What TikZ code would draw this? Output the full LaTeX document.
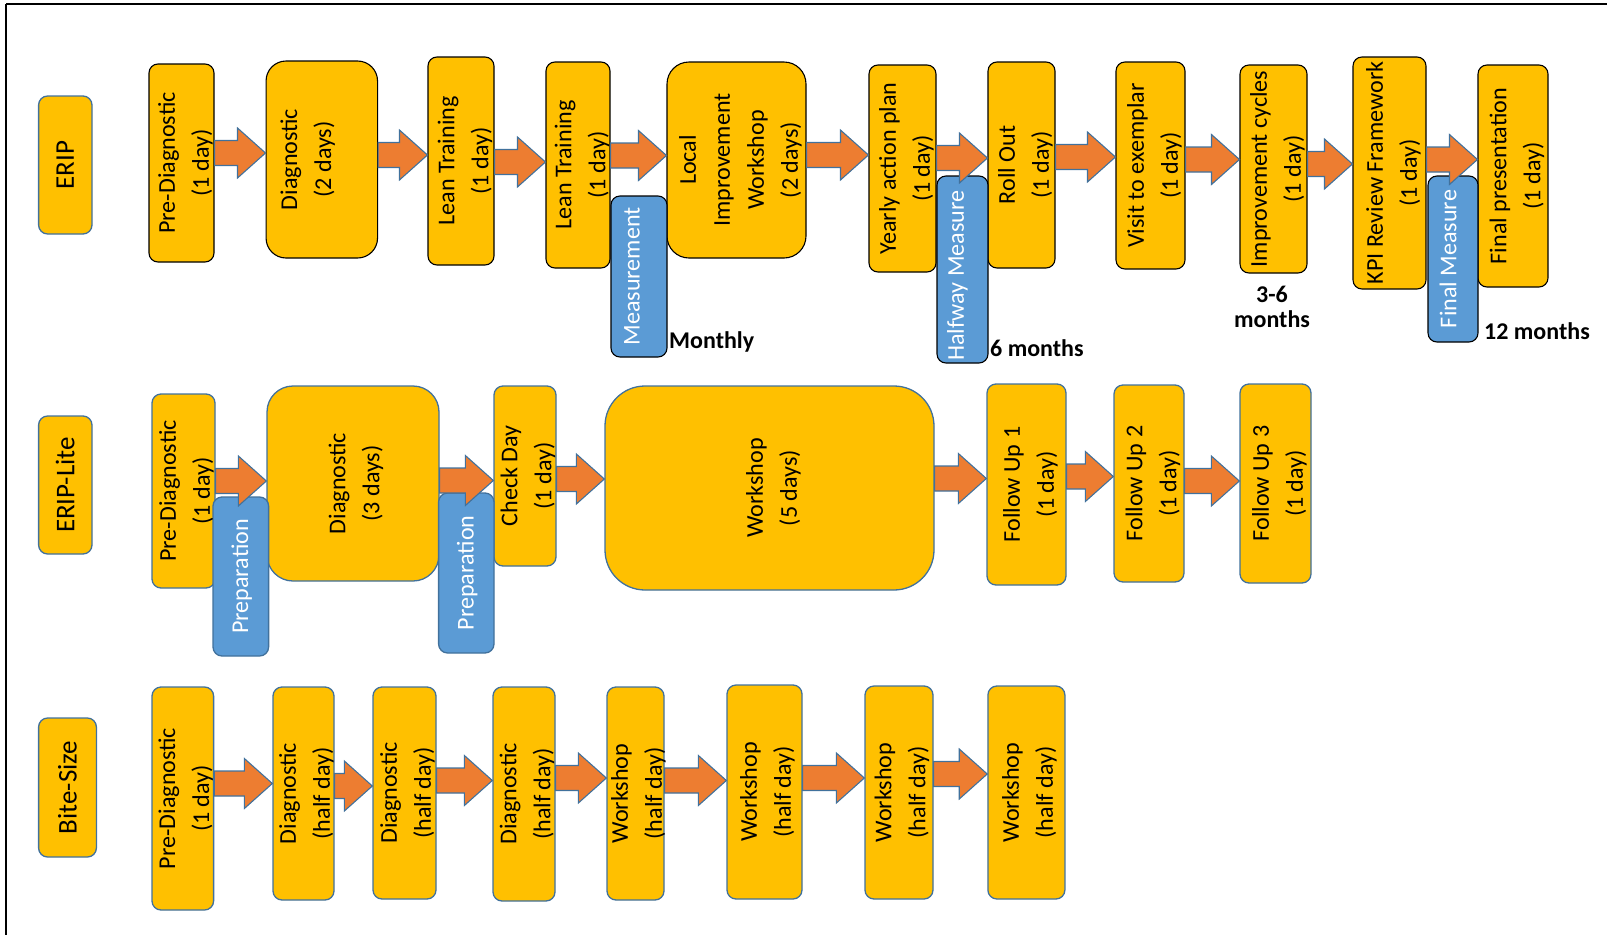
\documentclass[tikz,border=0pt]{standalone}
\usepackage{fontspec}
\setmainfont{Carlito}
\usetikzlibrary{calc}

\definecolor{boxorange}{HTML}{FFC000}
\definecolor{boxblue}{HTML}{5B9BD5}
\definecolor{edgeblue}{HTML}{41719C}
\definecolor{arroworange}{HTML}{ED7D31}

\tikzset{
  stage/.style={draw=black, fill=boxorange, rounded corners=9pt, line width=1.1pt, inner sep=0pt},
  stagelite/.style={stage, draw=edgeblue, line width=1.3pt},
  measure/.style={draw=black, fill=boxblue, rounded corners=9pt, line width=1.1pt, inner sep=0pt},
  prepbox/.style={measure, draw=edgeblue, line width=1.3pt},
  tag/.style={draw=edgeblue, fill=boxorange, rounded corners=9pt, line width=1.3pt, inner sep=0pt,
    rotate=90, font=\fontsize{27}{30}\selectfont},
  txt/.style={xshift=#1pt, rotate=90, align=center, inner sep=0pt, font=\fontsize{24.1}{34}\selectfont},
  txt/.default=4,
  wtxt/.style={txt=#1, text=white},
  wtxt/.default=-5,
  note/.style={inner sep=0pt, font=\fontsize{24}{25}\selectfont\bfseries},
  flow/.style={draw=edgeblue, fill=arroworange, line width=1.1pt, line join=miter},
  frame/.style={line width=1.6pt}
}

\newcommand{\flowarrow}[3]{%
  \coordinate (fs) at (#1.east |- 0,#3);
  \coordinate (ft) at (#2.west |- 0,#3);
  \draw[flow] ($(fs)+(0,-12.5)$) -- ($(ft)+(-28,-12.5)$) -- ($(ft)+(-28,-25)$) -- (ft)
    -- ($(ft)+(-28,25)$) -- ($(ft)+(-28,12.5)$) -- ($(fs)+(0,12.5)$) -- cycle;}

\begin{document}
\begin{tikzpicture}[x=1pt, y=-1pt]
\useasboundingbox (0,0) rectangle (1607,935);
\draw[frame] (6,4) -- (1607,4);
\draw[frame] (6,4) -- (6,935);

% ERIP
\node[tag, minimum width=138, minimum height=53.4] (erip) at (65.3,165) {ERIP};
\node[stage, minimum width=65, minimum height=198] (epre) at (181.5,163) {};
\node[stage, rounded corners=20pt, minimum width=111.5, minimum height=197] (ediag) at (321.8,159.5) {};
\node[stage, minimum width=66, minimum height=208] (elean1) at (461,161) {};
\node[stage, minimum width=64, minimum height=206] (elean2) at (578,165) {};
\node[stage, rounded corners=22pt, minimum width=139, minimum height=196] (elocal) at (736.5,160) {};
\node[stage, minimum width=67, minimum height=207] (eyearly) at (902.5,168.5) {};
\node[stage, minimum width=67, minimum height=206] (eroll) at (1021.5,165) {};
\node[stage, minimum width=69, minimum height=207] (evisit) at (1150.5,165.5) {};
\node[stage, minimum width=67, minimum height=208] (ecycles) at (1273.5,169) {};
\node[stage, minimum width=73, minimum height=232] (ekpi) at (1389.5,173) {};
\node[stage, minimum width=70, minimum height=222] (efinal) at (1513,176) {};
\node[measure, minimum width=56, minimum height=161] (emeas) at (639,276.5) {};
\node[measure, minimum width=51, minimum height=187] (ehalf) at (962.5,269.5) {};
\node[measure, minimum width=50, minimum height=166] (efmeas) at (1453,259) {};

% ERIP-Lite
\node[tag, minimum width=138, minimum height=53.4] (lite) at (65.3,485) {ERIP-Lite};
\node[stagelite, minimum width=63, minimum height=194] (lpre) at (183.5,491) {};
\node[stagelite, rounded corners=26pt, minimum width=172, minimum height=195] (ldiag) at (353,483.5) {};
\node[stagelite, minimum width=62, minimum height=180] (lcheck) at (525,476) {};
\node[stagelite, rounded corners=40pt, minimum width=329, minimum height=204] (lwork) at (769.5,488) {};
\node[stagelite, minimum width=79, minimum height=201] (lfu1) at (1026.5,484.5) {};
\node[stagelite, minimum width=70, minimum height=197] (lfu2) at (1149,483.5) {};
\node[stagelite, minimum width=71, minimum height=199] (lfu3) at (1275.5,483.5) {};
\node[prepbox, minimum width=55.6, minimum height=159] (lprep1) at (240.8,576.5) {};
\node[prepbox, minimum width=55.4, minimum height=160] (lprep2) at (466.3,573) {};

% Bite-Size
\node[tag, minimum width=139, minimum height=57.8] (bite) at (67.5,787.5) {Bite-Size};
\node[stagelite, minimum width=61.6, minimum height=223] (bpre) at (182.8,798.5) {};
\node[stagelite, minimum width=61, minimum height=213] (bdiag1) at (303.5,793.5) {};
\node[stagelite, minimum width=63, minimum height=212] (bdiag2) at (404.5,793) {};
\node[stagelite, minimum width=62, minimum height=214] (bdiag3) at (524,794) {};
\node[stagelite, minimum width=57, minimum height=213] (bws1) at (635.5,793.5) {};
\node[stagelite, minimum width=75, minimum height=214] (bws2) at (764.5,792) {};
\node[stagelite, minimum width=68, minimum height=213] (bws3) at (899,792.5) {};
\node[stagelite, minimum width=77, minimum height=213] (bws4) at (1026.4,792.5) {};

\flowarrow{epre}{ediag}{153}
\flowarrow{ediag}{elean1}{155}
\flowarrow{elean1}{elean2}{162}
\flowarrow{elean2}{elocal}{155.5}
\flowarrow{elocal}{eyearly}{155}
\flowarrow{eyearly}{eroll}{158}
\flowarrow{eroll}{evisit}{157}
\flowarrow{evisit}{ecycles}{159.5}
\flowarrow{ecycles}{ekpi}{164}
\flowarrow{ekpi}{efinal}{159.5}

\flowarrow{lpre}{ldiag}{481}
\flowarrow{ldiag}{lcheck}{480.5}
\flowarrow{lcheck}{lwork}{479}
\flowarrow{lwork}{lfu1}{478.5}
\flowarrow{lfu1}{lfu2}{476.5}
\flowarrow{lfu2}{lfu3}{481}

\flowarrow{bpre}{bdiag1}{783.5}
\flowarrow{bdiag1}{bdiag2}{786}
\flowarrow{bdiag2}{bdiag3}{780.5}
\flowarrow{bdiag3}{bws1}{778}
\flowarrow{bws1}{bws2}{780.5}
\flowarrow{bws2}{bws3}{778}
\flowarrow{bws3}{bws4}{774}

\node[txt] at (epre) {Pre-Diagnostic\\(1 day)};
\node[txt=-14] at (ediag) {Diagnostic\\(2 days)};
\node[txt] at (elean1) {Lean Training\\(1 day)};
\node[txt] at (elean2) {Lean Training\\(1 day)};
\node[txt] at (elocal) {Local\\Improvement\\Workshop\\(2 days)};
\node[txt] at (eyearly) {Yearly action plan\\(1 day)};
\node[txt] at (eroll) {Roll Out\\(1 day)};
\node[txt] at (evisit) {Visit to exemplar\\(1 day)};
\node[txt] at (ecycles) {Improvement cycles\\(1 day)};
\node[txt] at (ekpi) {KPI Review Framework\\(1 day)};
\node[txt] at (efinal) {Final presentation\\(1 day)};
\node[wtxt=-7] at (emeas) {Measurement};
\node[wtxt] at ([yshift=-6pt]ehalf.center) {Halfway Measure};
\node[wtxt] at (efmeas) {Final Measure};

\node[txt=3] at (lpre) {Pre-Diagnostic\\(1 day)};
\node[txt=3] at (ldiag) {Diagnostic\\(3 days)};
\node[txt=3] at (lcheck) {Check Day\\(1 day)};
\node[txt] at (lwork) {Workshop\\(5 days)};
\node[txt] at (lfu1) {Follow Up 1\\(1 day)};
\node[txt] at (lfu2) {Follow Up 2\\(1 day)};
\node[txt] at (lfu3) {Follow Up 3\\(1 day)};
\node[wtxt=1] at (lprep1) {Preparation};
\node[wtxt=1] at (lprep2) {Preparation};

\node[txt=3] at (bpre) {Pre-Diagnostic\\(1 day)};
\node[txt=3] at (bdiag1) {Diagnostic\\(half day)};
\node[txt=3] at (bdiag2) {Diagnostic\\(half day)};
\node[txt=3] at (bdiag3) {Diagnostic\\(half day)};
\node[txt=3] at (bws1) {Workshop\\(half day)};
\node[txt=3] at (bws2) {Workshop\\(half day)};
\node[txt=3] at (bws3) {Workshop\\(half day)};
\node[txt=3] at (bws4) {Workshop\\(half day)};

\node[note, anchor=base west] (monthly) at (669,348) {Monthly};
\node[note, anchor=base west] (sixm) at (990,356) {6 months};
\node[note, align=center] (threesix) at (1272,307) {3-6\\months};
\node[note, anchor=base west] (twelvem) at (1484,339) {12 months};

\end{tikzpicture}
\end{document}
